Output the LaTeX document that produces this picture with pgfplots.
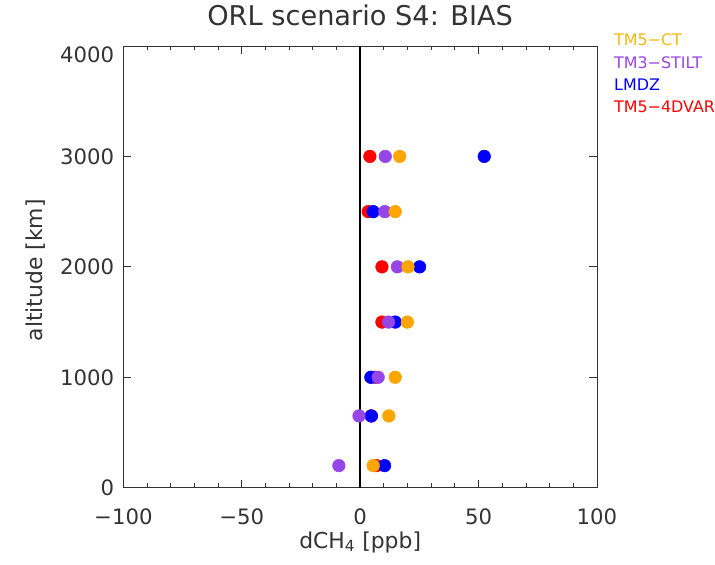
\documentclass[border=0pt]{standalone}
\usepackage{pgfplots}
\pgfplotsset{compat=1.18}
\usepackage{fontspec}
\setmainfont{DejaVu Sans}
\definecolor{cOrange}{RGB}{255,165,0}
\definecolor{cPurple}{RGB}{150,70,230}
\definecolor{cBlue}{RGB}{0,0,255}
\definecolor{cRed}{RGB}{255,0,0}
\definecolor{cLegOrange}{RGB}{240,185,20}
\begin{document}
\begin{tikzpicture}
\begin{axis}[
  name=a,
  scale only axis,
  width=357pt, height=333pt,
  xmin=-100, xmax=100, ymin=0, ymax=4000,
  xtick={-100,-50,0,50,100},
  xticklabels={−100,−50,0,50,100},
  minor x tick num=4,
  ytick={0,1000,2000,3000,4000},
  yticklabels={0,1000,2000,3000,\raisebox{-7pt}[\height][\depth]{4000}},
  tick align=inside,
  major tick length=6pt,
  minor tick length=3.4pt,
  axis line style={black!80, line width=0.6pt},
  every tick/.style={black!80, line width=0.6pt},
  ticklabel style={font=\fontsize{16}{18}\selectfont, text=black!80},
  xticklabel style={anchor=base, yshift=-27.5pt},
  yticklabel style={anchor=east, xshift=-3.5pt},
  xlabel={dCH\textsubscript{4} [ppb]},
  ylabel={altitude [km]},
  label style={font=\fontsize{16.5}{18}\selectfont, text=black!80},
  xlabel style={at={(axis description cs:0.5,-0.137)}, anchor=base},
  ylabel style={at={(axis description cs:-0.185,0.492)}, anchor=center},
  title={ORL scenario S4: BIAS},
  title style={font=\fontsize{20.5}{22}\selectfont, text=black!80, at={(axis description cs:0.5,1)}, anchor=base, yshift=9.75pt},
  clip=false,
]
\addplot[black, line width=1.9pt, forget plot] coordinates {(0,0) (0,4000)};
\addplot[only marks, mark=*, mark size=4.75pt, color=cRed, mark options={draw=cRed, fill=cRed}] coordinates {
  (4.1,3000) (3.4,2500) (9.2,2000) (9.2,1500) (6.4,1000) (4.7,650) (6.8,200)};
\addplot[only marks, mark=*, mark size=4.75pt, color=cBlue, mark options={draw=cBlue, fill=cBlue}] coordinates {
  (52.4,3000) (5.5,2500) (25.1,2000) (14.8,1500) (4.5,1000) (4.7,650) (10.3,200)};
\addplot[only marks, mark=*, mark size=4.75pt, color=cPurple, mark options={draw=cPurple, fill=cPurple}] coordinates {
  (10.6,3000) (10.4,2500) (15.7,2000) (12.0,1500) (7.6,1000) (-0.5,650) (-9.0,200)};
\addplot[only marks, mark=*, mark size=4.75pt, color=cOrange, mark options={draw=cOrange, fill=cOrange}] coordinates {
  (16.7,3000) (14.8,2500) (20.2,2000) (19.9,1500) (14.8,1000) (12.1,650) (5.5,200)};
\end{axis}
\begin{scope}[every node/.style={anchor=west, inner sep=0pt, font=\fontsize{12}{14}\selectfont}]
\node[text=cLegOrange] at ([xshift=12.75pt,yshift=4.5pt]a.north east) {TM5−CT};
\node[text=cPurple] at ([xshift=12.75pt,yshift=-12.75pt]a.north east) {TM3−STILT};
\node[text=cBlue] at ([xshift=12.75pt,yshift=-29.25pt]a.north east) {LMDZ};
\node[text=cRed] at ([xshift=12.75pt,yshift=-45.75pt]a.north east) {TM5−4DVAR};
\end{scope}
\path ([xshift=-93pt,yshift=-57.75pt]a.south west) rectangle ([xshift=86.25pt,yshift=34.5pt]a.north east);
\end{tikzpicture}
\end{document}
